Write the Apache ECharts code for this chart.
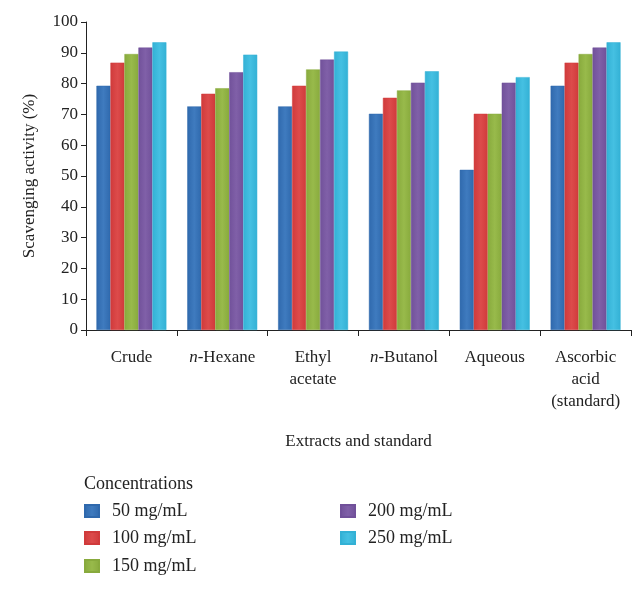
<!DOCTYPE html>
<html>
<head>
<meta charset="utf-8">
<script src="https://cdn.jsdelivr.net/npm/echarts@6/dist/echarts.min.js"></script>
<style>html,body{margin:0;padding:0;background:#fff}#c{width:644px;height:590px}</style>
</head>
<body>
<div id="c"></div>
<script>
const categories = ["Crude", "n-Hexane", "Ethyl\nacetate", "n-Butanol", "Aqueous", "Ascorbic\nacid\n(standard)"];
const seriesNames = ["50 mg/mL", "100 mg/mL", "150 mg/mL", "200 mg/mL", "250 mg/mL"];
const conc50  = [79.3, 72.6, 72.6, 70.2, 52.0, 79.3];
const conc100 = [86.8, 76.7, 79.3, 75.4, 70.2, 86.8];
const conc150 = [89.6, 78.5, 84.6, 77.8, 70.2, 89.6];
const conc200 = [91.7, 83.7, 87.8, 80.3, 80.3, 91.7];
const conc250 = [93.4, 89.4, 90.4, 84.0, 82.1, 93.4];
const yTicks = { min: 0, max: 100, interval: 10 };

const colors = ["#2f69ad", "#d03a3b", "#88aa3d", "#71519a", "#33b1d5"];
const lights = ["#3f7bbf", "#dc4b4b", "#98ba4b", "#8060a8", "#45c0e2"];
const values = [conc50, conc100, conc150, conc200, conc250];
const FONT = "Liberation Serif";
const legendPos = [[84, 502], [84, 529], [84, 557], [340, 502], [340, 529]];

const chart = echarts.init(document.getElementById('c'));
function grad(i) {
  return new echarts.graphic.LinearGradient(0, 0, 1, 0, [
    { offset: 0, color: colors[i] },
    { offset: 0.5, color: lights[i] },
    { offset: 1, color: colors[i] }
  ]);
}
const series = seriesNames.map((n, i) => ({
  name: n,
  type: 'bar',
  data: values[i],
  barGap: '0%',
  barCategoryGap: '23%',
  itemStyle: { color: grad(i), borderColor: colors[i], borderWidth: 0.5 }
}));
const legends = seriesNames.map((n, i) => ({
  data: [n],
  left: legendPos[i][0],
  top: legendPos[i][1],
  padding: 0,
  itemWidth: 14,
  itemHeight: 12,
  icon: 'rect',
  textStyle: { fontFamily: FONT, fontSize: 18, color: '#222', padding: [0, 0, 0, 8] }
}));
chart.setOption({
  animation: false,
  color: colors,
  title: {
    text: 'Concentrations',
    left: 84, top: 475, padding: 0,
    textStyle: { fontFamily: FONT, fontSize: 18, fontWeight: 'normal', color: '#222' }
  },
  legend: legends,
  grid: { left: 86, right: 13, top: 22, bottom: 260, containLabel: false },
  xAxis: {
    type: 'category',
    data: categories,
    name: 'Extracts and standard',
    nameLocation: 'middle',
    nameGap: 103,
    nameTextStyle: { fontFamily: FONT, fontSize: 17, color: '#222' },
    axisLine: { lineStyle: { color: '#222', width: 1 } },
    axisTick: { show: true, length: 6, lineStyle: { color: '#222' } },
    axisLabel: {
      interval: 0,
      margin: 17,
      fontFamily: FONT,
      fontSize: 17,
      lineHeight: 22,
      color: '#222',
      formatter: v => v.replace(/^n-/, '{i|n}-'),
      rich: { i: { fontStyle: 'italic', fontFamily: FONT, fontSize: 17, color: '#222', lineHeight: 22 } }
    }
  },
  yAxis: {
    type: 'value',
    min: yTicks.min, max: yTicks.max, interval: yTicks.interval,
    name: 'Scavenging activity (%)',
    nameLocation: 'middle',
    nameGap: 48,
    nameTextStyle: { fontFamily: FONT, fontSize: 17, color: '#222' },
    axisLine: { show: true, lineStyle: { color: '#222' } },
    axisTick: { show: true, length: 5, lineStyle: { color: '#222' } },
    splitLine: { show: false },
    axisLabel: { fontFamily: FONT, fontSize: 17, color: '#222', margin: 8 }
  },
  series: series
});
</script>
</body>
</html>
